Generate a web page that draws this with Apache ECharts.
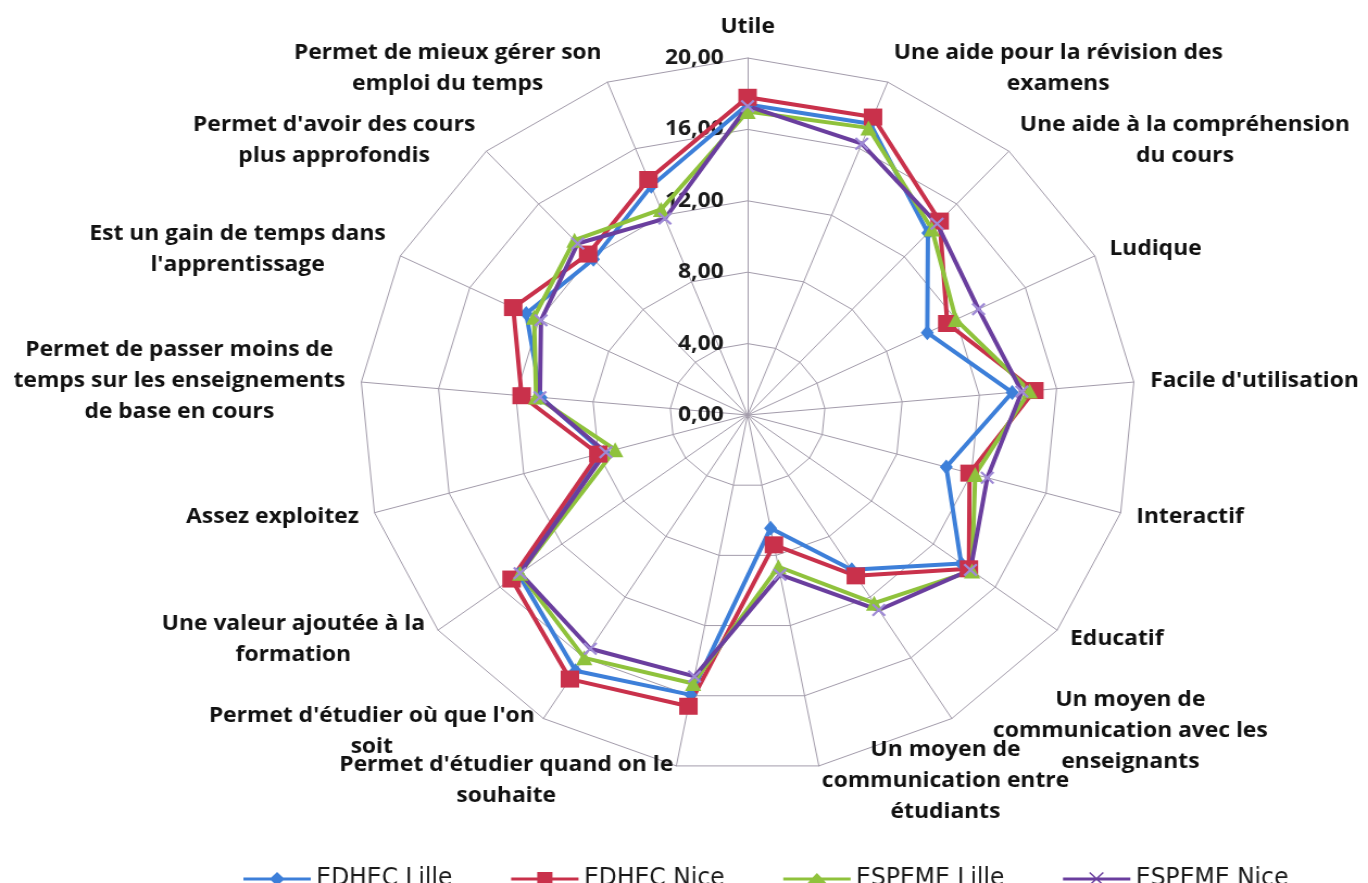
<!DOCTYPE html>
<html>
<head>
<meta charset="utf-8">
<script src="https://cdn.jsdelivr.net/npm/echarts@6/dist/echarts.min.js"></script>
<style>
html,body{margin:0;padding:0;background:#fff;overflow:hidden;}
#wrap{width:1368px;height:883px;overflow:hidden;position:relative;}
#chart{width:1259px;height:883px;transform:scaleX(1.0866);transform-origin:0 0;}
</style>
</head>
<body>
<div id="wrap"><div id="chart"></div></div>
<script>
// Categories, clockwise from the top
const categories = [
  'Utile',
  'Une aide pour la révision des\nexamens',
  'Une aide à la compréhension\ndu cours',
  'Ludique',
  "Facile d'utilisation",
  'Interactif',
  'Educatif',
  'Un moyen de\ncommunication avec les\nenseignants',
  'Un moyen de\ncommunication entre\nétudiants',
  "Permet d'étudier quand on le\nsouhaite",
  "Permet d'étudier où que l'on\nsoit",
  'Une valeur ajoutée à la\nformation',
  'Assez exploitez',
  'Permet de passer moins de\ntemps sur les enseignements\nde base en cours',
  "Est un gain de temps dans\nl'apprentissage",
  "Permet d'avoir des cours\nplus approfondis",
  'Permet de mieux gérer son\nemploi du temps'
];

const seriesNames = ['EDHEC Lille', 'EDHEC Nice', 'ESPEME Lille', 'ESPEME Nice'];

const edhecLille  = [17.4, 17.5, 13.8, 10.35, 13.7, 10.65, 13.8, 10.2, 6.45, 15.95, 16.85, 14.8, 7.7, 10.7, 12.75, 11.8, 13.75];
const edhecNice   = [17.8, 17.9, 14.7, 11.5, 14.85, 11.9, 14.3, 10.6, 7.4, 16.6, 17.4, 15.25, 8.0, 11.7, 13.5, 12.2, 14.15];
const espemeLille = [17.0, 17.25, 14.1, 12.0, 14.6, 12.2, 14.5, 12.4, 8.65, 15.3, 16.0, 14.7, 7.1, 10.95, 12.3, 13.25, 12.35];
const espemeNice  = [17.3, 16.3, 14.5, 13.3, 14.2, 12.85, 14.4, 12.85, 9.1, 14.9, 15.4, 14.7, 7.6, 10.75, 11.9, 13.0, 11.8];

const tickLabels = ['0,00', '4,00', '8,00', '12,00', '16,00', '20,00'];
const axisMin = 0, axisMax = 20;

// ECharts lays radar indicators counter-clockwise; reorder so they read clockwise.
const order = [0];
for (let i = categories.length - 1; i >= 1; i--) order.push(i);
const reorder = arr => order.map(i => arr[i]);

const FONT = '"Open Sans"';
const indicator = order.map((i, k) => {
  const o = { name: categories[i], min: axisMin, max: axisMax };
  if (k === 0) {
    o.axisLabel = {
      show: true, margin: 22, fontFamily: FONT, fontWeight: 'bold', fontSize: 21, color: '#1a1a1a',
      formatter: v => tickLabels[Math.round(v / 4)] || ''
    };
  }
  return o;
});

const crossPath = 'path://M0,1.2L1.2,0L5,3.8L8.8,0L10,1.2L6.2,5L10,8.8L8.8,10L5,6.2L1.2,10L0,8.8L3.8,5Z';

const styles = [
  { line: '#3d7fd9', item: '#3d7fd9', symbol: 'diamond', size: [12, 15],
    icon: 'path://M0,5.6L25.5,5.6L31,0L36.5,5.6L62,5.6L62,8.4L36.5,8.4L31,14L25.5,8.4L0,8.4Z' },
  { line: '#c9314b', item: '#c9314b', symbol: 'rect', size: 17,
    icon: 'path://M0,5.6L24,5.6L24,0L38,0L38,5.6L62,5.6L62,8.4L38,8.4L38,14L24,14L24,8.4L0,8.4Z' },
  { line: '#8fc23c', item: '#8fc23c', symbol: 'triangle', size: 15,
    icon: 'path://M0,5.6L27,5.6L31,1L35,5.6L62,5.6L62,8.4L37.5,8.4L40,11.5L22,11.5L24.5,8.4L0,8.4L0,5.6M31,0L31,0Z M0,14L0,14Z' },
  { line: '#6a3e9e', item: '#9f8ad6', symbol: crossPath, size: 13,
    icon: 'path://M0,5.6L62,5.6L62,8.4L0,8.4Z M25,0L37.6,12.6L36.6,13.6L24,1Z M36.6,0L37.6,1L25,13.6L24,12.6Z M0,14L0,14Z' }
];
const allData = [edhecLille, edhecNice, espemeLille, espemeNice];

const chart = echarts.init(document.getElementById('chart'), null, { renderer: 'canvas' });
chart.setOption({
  backgroundColor: '#ffffff',
  animation: false,
  legend: {
    left: 219, top: 862,
    itemWidth: 62, itemHeight: 14, itemGap: 54,
    textStyle: { fontFamily: '"Liberation Sans Narrow", "DejaVu Sans Condensed", sans-serif', fontSize: 24, color: '#1a1a1a' },
    data: seriesNames.map((n, s) => ({ name: n, icon: styles[s].icon, itemStyle: { color: styles[s].line } }))
  },
  radar: {
    center: [688, 415],
    radius: 357,
    startAngle: 90,
    shape: 'polygon',
    splitNumber: 5,
    indicator: indicator,
    axisName: {
      color: '#111',
      fontFamily: FONT, fontWeight: 'bold', fontSize: 21,
      formatter: name => {
        const st = name.indexOf('enseignants') >= 0 && name.indexOf('avec') >= 0 ? 'd' : 'c';
        return name.split('\n').map(l => '{' + st + '|' + l + '}').join('\n');
      },
      rich: {
        c: { align: 'center', fontFamily: FONT, fontWeight: 'bold', fontSize: 21, lineHeight: 31, color: '#111' },
        d: { align: 'center', fontFamily: FONT, fontWeight: 'bold', fontSize: 21, lineHeight: 31, color: '#111', padding: [0, 0, 0, 30] }
      }
    },
    nameGap: 15,
    axisLine: { lineStyle: { color: '#a39cab', width: 1 } },
    splitLine: { lineStyle: { color: '#a39cab', width: 1 } },
    splitArea: { show: false },
    axisTick: { show: false },
    axisLabel: { show: false }
  },
  series: [{
    type: 'radar',
    data: allData.map((arr, s) => ({
      name: seriesNames[s],
      value: reorder(arr),
      symbol: styles[s].symbol,
      symbolSize: styles[s].size,
      lineStyle: { color: styles[s].line, width: 4 },
      itemStyle: { color: styles[s].item, borderWidth: 0 }
    }))
  }]
});
</script>
</body>
</html>
